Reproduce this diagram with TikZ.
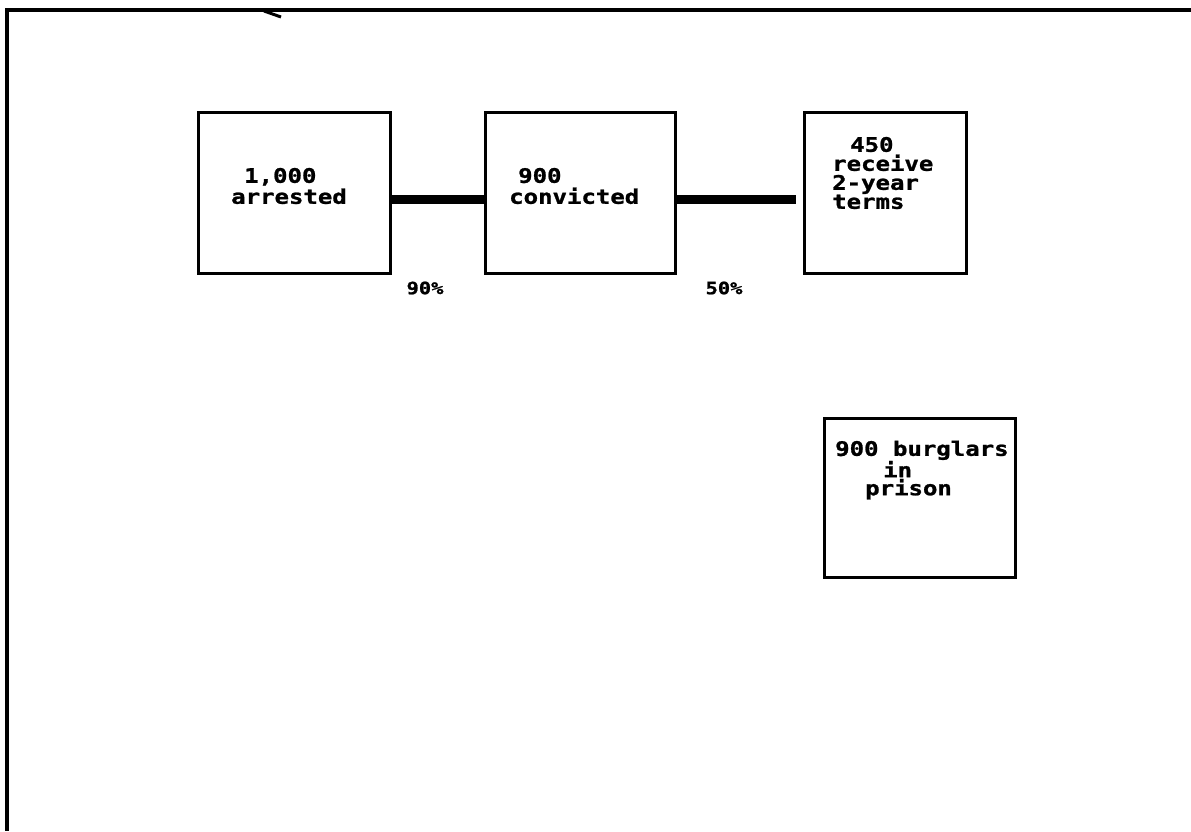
\documentclass[tikz,border=0pt]{standalone}
\usepackage{fontspec}
\newfontfamily\dotfont[FakeStretch=1.2,FakeBold=1.2]{DejaVu Sans Mono}
\begin{document}
\begin{tikzpicture}[x=1pt,y=-1pt,
  box/.style={draw=black, line width=3pt, inner sep=0pt},
  txt/.style={inner sep=0pt, font=\dotfont\bfseries\fontsize{20}{21}\selectfont},
  pct/.style={inner sep=0pt, font=\dotfont\bfseries\fontsize{17}{20}\selectfont},
  conn/.style={draw=black, line width=9pt}]
\useasboundingbox (0,0) rectangle (1191,831);
% page frame
\draw[line width=4pt] (1191,10) -- (7,10) -- (7,831);
\draw[line width=3pt] (264,11) -- (281,17);
% boxes
\node[box, minimum width=192pt, minimum height=161pt] (b1) at (294,192.5) {};
\node[box, minimum width=190pt, minimum height=161pt] (b2) at (580,192.5) {};
\node[box, minimum width=162pt, minimum height=161pt] (b3) at (885,192.5) {};
\node[box, minimum width=191pt, minimum height=159pt] (b4) at (919.5,497.5) {};
% texts
\node[txt, align=left, anchor=west] (t1) at (231,186) {\hspace{13pt}1,000\\arrested};
\node[txt, align=left, anchor=west] (t2) at (509,186) {\hspace{9pt}900\\convicted};
\node[txt, align=left, anchor=west, font=\dotfont\bfseries\fontsize{20}{19}\selectfont] (t3) at (832,173) {\hspace{18pt}450\\receive\\2-year\\terms};
\node[txt, align=left, anchor=west, font=\dotfont\bfseries\fontsize{20}{18}\selectfont] (t4) at (835,470) {900 burglars\\\hspace{48pt}in\\\hspace{30pt}prison};
% connectors
\draw[conn] ([yshift=-6.5pt]b1.east) -- ([yshift=-6.5pt]b2.west);
\draw[conn] ([yshift=-6.5pt]b2.east) -- ([yshift=-6.5pt,xshift=-7pt]b3.west);
% percentages
\node[pct] (p1) at (425,288) {90\%};
\node[pct] (p2) at (724,288) {50\%};
\end{tikzpicture}
\end{document}
